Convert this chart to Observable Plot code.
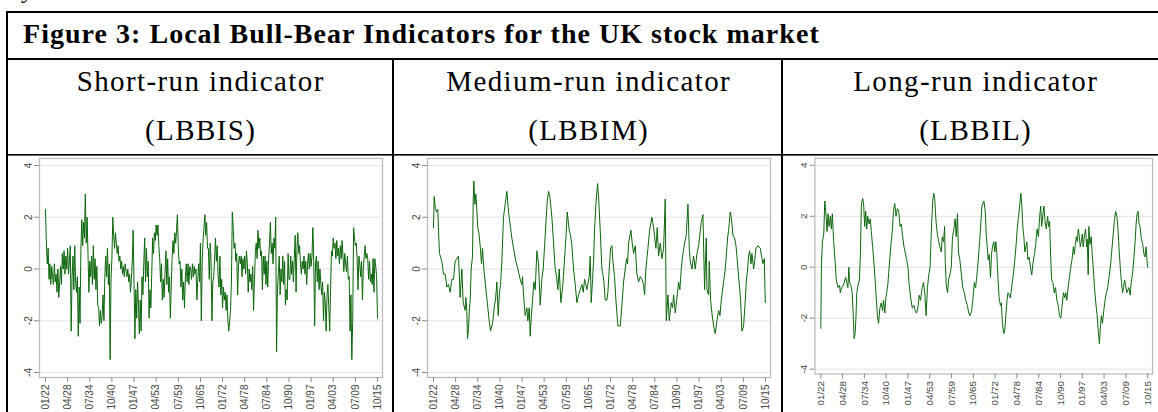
<!DOCTYPE html>
<html>
<head>
<meta charset="utf-8">
<script src="https://cdn.jsdelivr.net/npm/d3@7"></script>
<script src="https://cdn.jsdelivr.net/npm/@observablehq/plot@0.6"></script>
<style>
  html, body { margin: 0; padding: 0; background: #fff; }
  #page { position: relative; width: 1158px; height: 412px; overflow: hidden; background: #fff; }
  .chart { position: absolute; top: 155px; z-index: 1; }
  #table { position: absolute; left: 0; top: 0; z-index: 2; pointer-events: none; }
</style>
</head>
<body>
<div id="page"></div>
<script>
// ---------------- text ----------------
const titleText = "Figure 3: Local Bull-Bear Indicators for the UK stock market";
const headerLine1 = ["Short-run indicator", "Medium-run indicator", "Long-run indicator"];
const headerLine2 = ["(LBBIS)", "(LBBIM)", "(LBBIL)"];

// ---------------- axes ----------------
const yTicks = [-4, -2, 0, 2, 4];
const xTickYears = [1922, 1928.25, 1934.5, 1940.75, 1947, 1953.25, 1959.5, 1965.75,
                    1972, 1978.25, 1984.5, 1990.75, 1997, 2003.25, 2009.5, 2015.75];
const xTickLabels = ["01/22","04/28","07/34","10/40","01/47","04/53","07/59","10/65",
                     "01/72","04/78","07/84","10/90","01/97","04/03","07/09","10/15"];

// ---------------- data ----------------
// Short-run indicator (LBBIS), quarterly from 1922Q1
const lbbisStart = 1922;
const lbbisValues = [
 2.3,1.0,0.2,0.8, -0.4,0.2,-0.6,0.1, -0.3,-0.6,0.2,-0.5, -0.2,-0.9,0.0,-1.1,
 -0.5,0.1,-0.6,0.6, 0.0,0.7,-0.2,0.5, 0.0,0.8,-0.2,0.3, 0.9,-2.4,-0.3,0.5,
 -0.8,0.9,-0.5,-0.9, -0.3,-2.6,-0.7,-2.1, 0.8,1.9,0.9,1.8, 1.2,2.9,1.0,2.0,
 0.6,-0.9,0.3,-0.3, 0.5,-0.6,0.9,-0.4, 0.4,-0.8,0.1,-1.4, -1.5,-2.2,-1.6,-2.1,
 -1.8,-1.0,-2.0,-0.3, 0.5,-0.3,0.8,-0.6, 0.2,-3.5,-0.4,0.4, 2.0,1.3,0.8,1.4,
 1.0,0.6,0.9,0.3, 0.5,0.0,0.3,-0.2, 0.1,-0.3,0.2,-0.1, -0.3,0.0,-0.5,-0.2,
 -0.9,-0.4,0.3,1.5, -0.6,-2.7,-0.8,-1.9, -0.5,-1.4,-2.5,-1.2, -2.4,-0.3,-1.0,0.2,
 1.2,-0.5,0.8,-0.3, 0.3,-1.9,-0.8,-1.5, -0.2,1.2,0.6,1.4, 1.1,1.7,1.3,1.7,
 0.9,0.4,-0.5,0.2, -1.2,-0.4,-1.1,-0.2, 0.7,-0.6,0.4,-0.9, -0.3,-1.9,-0.7,0.4,
 1.1,0.6,1.4,1.0, 1.5,2.1,0.8,0.2, 0.3,-0.7,0.0,-1.2, -0.5,-1.5,-0.3,0.2,
 -0.5,0.2,-0.6,0.1, 0.0,-0.4,0.2,-0.3, 0.1,-0.2,0.0,-1.2, -0.4,0.2,-0.5,1.0,
 -2.0,0.3,1.1,1.6, 2.1,1.3,1.8,0.8, 0.8,-0.4,1.0,0.3, -2.0,-0.5,-0.3,0.4,
 1.2,0.3,0.9,-0.3, -0.7,0.5,-1.0,-0.4, -1.5,-0.7,-1.2,-0.9, -1.6,-1.0,-2.0,-2.4,
 -2.0,-1.6,-0.5,2.2, 1.6,0.8,1.0,0.3, 0.6,-1.0,0.2,0.5, 0.2,0.5,-0.3,0.4,
 0.0,0.5,-0.2,0.7, 0.2,-0.9,0.0,-0.5, -0.2,-0.8,0.1,-1.6, -0.4,0.6,1.0,0.4,
 1.5,0.8,1.2,0.5, 0.7,-0.8,0.5,-0.2, 0.5,-0.6,0.3,-0.7, 0.4,1.0,1.8,0.6,
 1.0,0.2,1.2,0.8, 2.0,-3.2,-0.8,-0.2, 0.5,-1.0,0.0,-0.5, 0.5,-0.6,0.3,-1.4,
 -0.8,-1.2,0.6,-0.4, -0.4,0.5,-0.2,0.3, -0.5,0.4,1.3,-0.9, 0.8,1.4,0.6,0.9,
 0.2,-0.2,0.3,0.0, 0.5,-0.2,0.3,-0.6, 0.2,0.6,0.0,0.6, 0.1,0.5,1.6,0.3,
 -2.2,0.2,0.5,-0.5, 0.3,-0.8,0.0,-0.6, -1.0,-0.5,-2.0,-0.9, -1.3,-2.4,-1.0,-0.6,
 -1.5,-2.4,-0.8,0.7, 0.5,1.2,0.8,1.0, 0.4,1.1,0.5,0.8, 0.2,0.9,0.4,1.1,
 0.5,-0.1,0.6,0.2, -0.1,0.5,-0.4,-0.3, -2.4,-1.0,-3.5,-2.0, 1.6,1.2,0.9,1.0,
 0.4,-0.8,0.5,0.2, -0.3,0.3,-1.2,0.0, 0.5,0.9,0.4,0.6, 0.4,-0.4,0.3,-0.5,
 -0.2,-0.6,0.4,-0.9, 0.4,0.1,-0.3,-1.9
];

// Medium-run indicator (LBBIM): [decimal year, value]
const lbbimPoints = [
 [1922.00,1.6],[1922.19,2.8],[1922.47,2.4],[1922.85,2.2],[1923.22,2.3],[1923.41,1.5],[1923.69,0.6],[1924.35,0.3],
 [1924.82,-0.2],[1925.30,-0.2],[1925.77,-0.7],[1926.24,-0.6],[1926.71,-0.9],[1927.18,-0.4],[1927.65,-0.4],[1928.12,0.3],
 [1928.59,0.4],[1929.06,0.5],[1929.53,-1.1],[1930.00,0.0],[1930.38,-1.3],[1930.95,-1.6],[1931.13,-1.1],[1931.42,-1.6],
 [1931.60,-2.7],[1931.89,-2.3],[1932.17,-1.5],[1932.36,-1.2],[1932.64,0.0],[1933.02,0.5],[1933.21,2.6],[1933.39,3.4],
 [1933.68,2.5],[1933.96,2.9],[1934.52,1.6],[1934.81,1.4],[1935.18,0.9],[1935.56,0.2],[1935.84,0.8],[1936.22,0.0],
 [1936.60,-0.5],[1936.97,-1.0],[1937.35,-1.5],[1937.73,-2.0],[1938.10,-2.4],[1938.67,-2.1],[1939.23,-1.4],[1939.51,-1.2],
 [1939.89,-0.5],[1940.27,-1.8],[1940.64,-0.9],[1940.93,-0.6],[1941.30,0.3],[1941.77,2.0],[1942.24,2.5],[1942.72,3.0],
 [1943.19,2.2],[1943.75,1.6],[1944.12,1.2],[1944.60,0.8],[1945.26,0.3],[1945.82,0.0],[1946.48,-0.4],[1946.95,-0.6],
 [1947.14,-0.3],[1947.42,-1.0],[1947.89,-1.8],[1948.37,-1.5],[1948.65,-2.0],[1949.02,-1.5],[1949.31,-2.6],[1949.59,-1.9],
 [1949.97,-1.2],[1950.34,-0.5],[1950.72,-0.8],[1951.19,0.7],[1951.66,0.2],[1952.13,-1.4],[1952.60,-0.4],[1952.98,0.0],
 [1953.54,1.3],[1953.83,2.0],[1954.11,2.6],[1954.49,3.0],[1954.86,2.8],[1955.43,2.0],[1955.90,1.0],[1956.37,0.0],
 [1956.75,-0.3],[1957.12,-0.8],[1957.50,0.0],[1957.97,-1.3],[1958.53,-0.6],[1959.19,0.8],[1959.48,1.4],[1959.76,2.2],
 [1960.32,1.5],[1960.70,1.3],[1961.08,0.9],[1961.55,0.0],[1962.02,-0.6],[1962.49,-1.3],[1962.96,-1.0],[1963.43,-0.8],
 [1963.90,-0.6],[1964.28,-0.9],[1964.66,-0.4],[1965.03,-0.6],[1965.31,-0.8],[1965.97,-0.3],[1966.26,0.5],[1966.54,-1.3],
 [1966.92,-0.4],[1967.20,0.3],[1967.48,1.5],[1967.86,2.5],[1968.33,3.3],[1968.61,2.8],[1969.08,1.5],[1969.55,0.0],
 [1969.83,-0.2],[1970.12,-0.5],[1970.49,-1.2],[1970.96,-1.2],[1971.24,-0.9],[1971.62,0.0],[1972.00,0.8],[1972.38,0.9],
 [1972.66,0.3],[1973.13,-0.3],[1973.51,-1.2],[1974.07,-2.2],[1974.73,-2.2],[1975.20,-1.4],[1975.67,-0.5],[1976.14,0.0],
 [1976.52,0.4],[1976.80,0.2],[1977.08,1.0],[1977.74,1.5],[1978.12,1.0],[1978.50,0.6],[1978.97,0.9],[1979.44,-0.2],
 [1979.91,-0.5],[1980.38,-0.3],[1980.85,-0.4],[1981.32,-0.6],[1981.60,-1.0],[1981.98,0.0],[1982.26,0.4],[1982.55,0.8],
 [1983.02,1.5],[1983.68,2.0],[1984.15,1.6],[1984.81,0.8],[1985.00,1.2],[1985.18,1.6],[1985.56,0.5],[1986.03,1.0],
 [1986.50,0.4],[1986.97,0.8],[1987.44,2.7],[1987.73,-2.0],[1988.20,-1.0],[1988.57,-2.0],[1989.14,-1.3],[1989.51,-1.5],
 [1989.80,-1.0],[1990.27,-1.7],[1990.83,-1.0],[1991.21,-0.5],[1991.58,-0.8],[1991.96,0.0],[1992.34,0.5],[1992.90,1.0],
 [1993.37,1.3],[1993.85,2.5],[1994.22,0.8],[1994.50,0.3],[1994.98,0.0],[1995.45,0.5],[1995.92,0.0],[1996.39,0.6],
 [1996.86,0.9],[1997.61,1.8],[1998.08,2.1],[1998.55,-0.8],[1998.74,0.0],[1999.02,1.2],[1999.21,-0.8],[1999.68,-1.0],
 [1999.87,0.3],[2000.25,-1.2],[2000.62,-1.7],[2001.10,-2.2],[2001.57,-2.5],[2002.04,-2.0],[2002.51,-1.6],[2002.89,-1.8],
 [2003.26,-1.2],[2003.92,-0.5],[2004.39,0.0],[2004.67,0.5],[2005.05,1.2],[2005.33,1.5],[2005.80,2.2],[2006.09,2.0],
 [2006.56,1.3],[2007.03,1.2],[2007.41,0.9],[2007.69,0.5],[2007.97,0.0],[2008.35,-0.6],[2008.72,-1.2],[2009.10,-2.4],
 [2009.57,-2.2],[2010.04,-1.2],[2010.32,-0.5],[2010.70,0.0],[2010.98,0.5],[2011.27,0.7],[2011.64,0.2],[2011.92,0.6],
 [2012.40,0.0],[2012.68,0.3],[2013.05,0.8],[2013.62,0.9],[2014.28,0.8],[2014.75,0.4],[2015.03,0.2],[2015.41,0.4],
 [2015.69,-1.3]
];

// Long-run indicator (LBBIL): [decimal year, value]
const lbbilPoints = [
 [1922.00,-2.4],[1922.19,0.2],[1922.47,1.0],[1922.85,1.3],[1923.14,2.6],[1923.42,2.2],[1923.80,1.4],[1924.08,2.1],
 [1924.37,1.6],[1924.75,2.0],[1925.03,1.5],[1925.31,2.1],[1925.69,1.0],[1926.07,0.3],[1926.45,-0.5],[1926.92,-0.8],
 [1927.40,-0.7],[1927.59,-1.0],[1927.97,-0.8],[1928.53,-0.7],[1929.10,-0.4],[1929.48,-0.6],[1929.77,-0.8],[1930.05,0.0],
 [1930.24,-0.6],[1930.62,-0.7],[1931.00,-1.0],[1931.28,-1.8],[1931.56,-2.8],[1931.85,-2.6],[1932.13,-1.8],[1932.32,-1.0],
 [1932.70,-0.7],[1933.08,-0.5],[1933.36,0.5],[1933.65,2.5],[1934.03,2.7],[1934.31,2.4],[1934.59,1.6],[1934.88,2.2],
 [1935.16,1.5],[1935.45,2.0],[1935.83,1.7],[1936.20,1.9],[1936.49,1.4],[1936.87,0.8],[1937.34,0.0],[1937.81,-1.0],
 [1938.29,-2.0],[1938.57,-2.2],[1938.95,-1.6],[1939.33,-1.4],[1939.71,-1.7],[1939.99,-1.3],[1940.37,-1.8],[1940.66,-1.2],
 [1941.22,-0.7],[1941.60,0.0],[1942.08,0.8],[1942.55,1.5],[1942.83,2.2],[1943.21,2.5],[1943.59,2.0],[1943.97,2.3],
 [1944.35,2.2],[1944.73,1.6],[1945.11,1.7],[1945.39,1.3],[1945.86,0.8],[1946.34,0.5],[1946.62,0.3],[1947.00,0.0],
 [1947.28,-0.6],[1947.76,-1.2],[1948.23,-1.6],[1948.70,-1.5],[1949.08,-1.7],[1949.46,-1.8],[1949.84,-1.6],[1950.22,-1.1],
 [1950.60,-1.3],[1951.07,-0.8],[1951.45,-0.6],[1951.83,-1.0],[1952.21,-1.9],[1952.59,-0.8],[1952.97,-0.3],[1953.34,0.0],
 [1953.72,1.5],[1954.10,2.6],[1954.39,2.9],[1954.67,2.7],[1955.05,1.8],[1955.43,1.3],[1955.81,1.0],[1956.19,0.8],
 [1956.56,0.6],[1956.85,1.2],[1957.23,1.0],[1957.51,1.6],[1957.70,0.2],[1957.98,-0.7],[1958.36,-1.0],[1958.65,-0.5],
 [1959.03,-0.3],[1959.41,0.0],[1959.78,1.2],[1960.16,1.5],[1960.54,1.9],[1960.83,1.2],[1961.20,2.1],[1961.49,0.6],
 [1961.87,0.3],[1962.25,-0.2],[1962.72,-0.8],[1963.19,-1.0],[1963.57,-1.3],[1964.05,-1.5],[1964.42,-1.8],[1964.80,-1.9],
 [1965.28,-1.7],[1965.66,-1.2],[1966.03,-0.6],[1966.41,-0.8],[1966.79,-0.3],[1967.17,0.3],[1967.55,1.0],[1967.93,1.8],
 [1968.21,2.4],[1968.50,2.5],[1968.78,2.6],[1969.16,2.2],[1969.44,1.3],[1969.73,0.8],[1970.01,0.3],[1970.30,0.5],
 [1970.67,-0.4],[1970.96,0.5],[1971.24,0.8],[1971.62,1.0],[1971.91,0.6],[1972.19,1.0],[1972.47,0.6],[1972.66,0.0],
 [1972.85,-0.5],[1973.14,-1.2],[1973.52,-1.5],[1973.80,-1.4],[1974.08,-2.2],[1974.46,-2.6],[1974.75,-2.5],[1975.13,-1.8],
 [1975.41,-1.3],[1975.69,-1.0],[1976.07,-1.1],[1976.36,-1.2],[1976.64,-0.9],[1977.11,-0.4],[1977.59,0.2],[1977.97,0.8],
 [1978.34,1.5],[1978.72,2.0],[1979.10,2.5],[1979.39,2.9],[1979.67,2.4],[1979.95,1.6],[1980.24,1.2],[1980.52,0.6],
 [1980.81,0.8],[1981.09,1.0],[1981.38,0.3],[1981.75,0.4],[1982.13,0.0],[1982.51,-0.3],[1982.89,0.2],[1983.27,0.5],
 [1983.65,0.9],[1984.03,1.5],[1984.41,1.2],[1984.78,2.0],[1985.07,2.4],[1985.35,1.6],[1985.73,2.1],[1986.02,2.4],
 [1986.30,1.8],[1986.68,1.5],[1987.06,2.0],[1987.34,1.6],[1987.63,1.8],[1987.91,0.5],[1988.19,-0.5],[1988.57,-0.6],
 [1988.95,-1.0],[1989.33,-0.8],[1989.71,-1.3],[1990.09,-1.5],[1990.47,-1.9],[1990.84,-2.0],[1991.22,-1.5],[1991.60,-1.0],
 [1991.98,-1.2],[1992.27,-1.0],[1992.55,-1.3],[1992.93,-0.8],[1993.31,-0.4],[1993.69,0.0],[1994.06,0.3],[1994.44,0.8],
 [1994.73,0.5],[1995.01,0.9],[1995.30,1.2],[1995.58,1.0],[1995.86,1.5],[1996.15,1.2],[1996.43,0.8],[1996.72,1.0],
 [1997.00,1.3],[1997.28,0.8],[1997.57,1.2],[1997.95,1.5],[1998.23,0.8],[1998.42,1.1],[1998.70,-0.3],[1998.89,1.6],
 [1999.18,0.9],[1999.56,1.2],[1999.84,0.5],[2000.13,0.0],[2000.50,-0.8],[2000.88,-1.4],[2001.26,-1.9],[2001.64,-2.6],
 [2001.92,-3.0],[2002.21,-2.3],[2002.49,-1.9],[2002.78,-2.2],[2003.16,-1.7],[2003.53,-1.3],[2003.91,-1.0],[2004.29,-0.8],
 [2004.67,-0.4],[2005.05,0.0],[2005.43,0.6],[2005.81,1.2],[2006.19,1.8],[2006.56,2.2],[2006.94,2.0],[2007.23,1.5],
 [2007.61,0.6],[2007.98,-0.2],[2008.27,-0.6],[2008.55,-1.0],[2008.84,-0.8],[2009.12,-0.5],[2009.41,-0.7],[2009.78,-1.0],
 [2010.07,-0.9],[2010.35,-0.8],[2010.73,-1.1],[2011.02,-0.6],[2011.39,-0.3],[2011.77,0.3],[2012.15,1.0],[2012.44,1.7],
 [2012.72,2.1],[2013.00,2.2],[2013.29,1.7],[2013.57,1.6],[2013.95,1.1],[2014.33,0.9],[2014.71,0.5],[2015.00,0.4],
 [2015.28,0.8],[2015.56,0.3],[2015.75,0.0]
];

// ---------------- build ----------------
const W = 1158, H = 412;
const page = d3.select("#page");

const series = [
  lbbisValues.map((v, i) => ({t: lbbisStart + i * 0.25, v})),
  lbbimPoints.map(([t, v]) => ({t, v})),
  lbbilPoints.map(([t, v]) => ({t, v}))
];

const chartLefts = [0, 388, 776];
series.forEach((data, k) => {
  const plot = Plot.plot({
    width: 388,
    height: 257,
    marginTop: 3,
    marginBottom: 35,
    marginLeft: 39,
    marginRight: 6,
    style: {background: "transparent", fontFamily: "'Liberation Sans', Arial, sans-serif", fontSize: "10px", color: "#444", overflow: "visible"},
    x: {type: "linear", domain: [1922, 2015.75], range: [45, 377], label: null},
    y: {domain: [-4, 4], range: [217, 10], label: null},
    marks: [
      Plot.ruleY(yTicks, {stroke: "#e3e3e3", strokeWidth: 1}),
      Plot.frame({stroke: "#bdbdbd", strokeWidth: 1.3}),
      Plot.axisY(yTicks, {tickSize: 5, tickPadding: 3, tickRotate: -90, fontSize: 10, label: null,
        tickFormat: d => String(d), stroke: "#8a8a8a"}),
      Plot.axisX(xTickYears, {tickSize: 5, tickPadding: 2, tickRotate: -90, fontSize: 10, label: null,
        tickFormat: d => xTickLabels[xTickYears.indexOf(d)], stroke: "#8a8a8a"}),
      Plot.line(data, {x: "t", y: "v", stroke: "#0c660c", strokeWidth: 1})
    ]
  });
  page.append("div").attr("class", "chart").style("left", chartLefts[k] + "px").node().appendChild(plot);
});

// ---------------- table overlay ----------------
const svg = page.append("svg").attr("id", "table").attr("width", W).attr("height", H);
const serif = "'Liberation Serif', 'Times New Roman', serif";

// fragment of the preceding line's text (cut off at the top edge in the original)
svg.append("text").attr("x", 21).attr("y", -2)
  .attr("font-family", serif).attr("font-size", 24).text("y");

// lines
const rects = [
  [6, 11, 1160, 2],    // top border
  [6, 58, 1160, 2],    // below title
  [6, 154, 1160, 1.6], // below headers
  [6, 11, 2, 401],     // left border
  [392, 58, 2, 354],   // column divider 1
  [781, 58, 2, 354]    // column divider 2
];
svg.selectAll("rect.rule").data(rects).join("rect").attr("class", "rule")
  .attr("x", d => d[0]).attr("y", d => d[1]).attr("width", d => d[2]).attr("height", d => d[3])
  .attr("fill", "#000");

// letter-spacing needed so that a text reaches a target width
function spacingFor(sel, target) {
  sel.attr("letter-spacing", 0);
  const w = sel.node().getComputedTextLength();
  const n = sel.text().length;
  return (target - w) / n;
}

const title = svg.append("text")
  .attr("x", 23).attr("y", 43)
  .attr("font-family", serif).attr("font-weight", "bold")
  .attr("font-size", 28).attr("fill", "#000").text(titleText);
title.attr("letter-spacing", spacingFor(title, 797).toFixed(2));

const colCenters = [200, 588, 975];
const headerSize = 29;
const probe = svg.append("text").attr("font-family", serif)
  .attr("font-size", headerSize).text(headerLine1[0]);
const hls = spacingFor(probe, 248);
probe.remove();

headerLine1.forEach((t, i) => {
  svg.append("text").attr("x", colCenters[i] + hls / 2).attr("y", 91).attr("text-anchor", "middle")
    .attr("font-family", serif).attr("font-size", headerSize).attr("letter-spacing", hls.toFixed(2))
    .attr("fill", "#000").text(t);
});
headerLine2.forEach((t, i) => {
  svg.append("text").attr("x", colCenters[i] + hls / 2).attr("y", 140).attr("text-anchor", "middle")
    .attr("font-family", serif).attr("font-size", headerSize).attr("letter-spacing", hls.toFixed(2))
    .attr("fill", "#000").text(t);
});
</script>
</body>
</html>
